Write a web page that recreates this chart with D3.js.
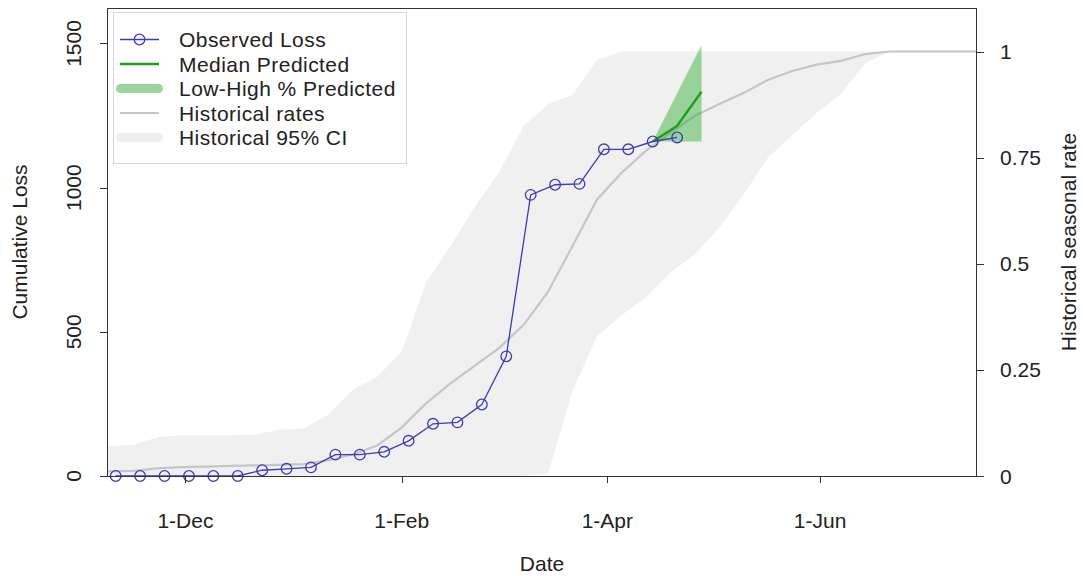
<!DOCTYPE html>
<html><head><meta charset="utf-8">
<script src="https://cdn.jsdelivr.net/npm/d3@7"></script>
<style>body{margin:0;background:#fff} text{font-family:"Liberation Sans",Arial,Helvetica,sans-serif;fill:#222}</style>
</head><body>
<svg id="c" width="1083" height="576"></svg>
<script>
// ---- data ----
const obsDates = ["2018-11-11","2018-11-18","2018-11-25","2018-12-02","2018-12-09","2018-12-16","2018-12-23","2018-12-30",
  "2019-01-06","2019-01-13","2019-01-20","2019-01-27","2019-02-03","2019-02-10","2019-02-17","2019-02-24",
  "2019-03-03","2019-03-10","2019-03-17","2019-03-24","2019-03-31","2019-04-07","2019-04-14","2019-04-21"];
const obsLoss = [0,0,0,0,0,0,20,25,30,74,74,84,122,181,186,248,415,975,1010,1013,1133,1133,1160,1174];

const predDates = ["2019-04-14","2019-04-21","2019-04-28"];
const predMedian = [1160,1214,1333];
const predLow = [1160,1160,1160];
const predHigh = [1160,1327,1495];

const histDates = ["2018-11-08","2018-11-16","2018-11-23","2018-11-30","2018-12-07","2018-12-14","2018-12-21","2018-12-28",
  "2019-01-04","2019-01-11","2019-01-18","2019-01-25","2019-02-01","2019-02-08","2019-02-15","2019-02-22",
  "2019-03-01","2019-03-08","2019-03-15","2019-03-22","2019-03-29","2019-04-05","2019-04-12","2019-04-19",
  "2019-04-26","2019-05-03","2019-05-10","2019-05-17","2019-05-24","2019-05-31","2019-06-07","2019-06-14",
  "2019-06-21","2019-06-28","2019-07-05","2019-07-12","2019-07-16"];
const histRate = [0.011,0.012,0.018,0.021,0.022,0.024,0.025,0.026,0.028,0.037,0.051,0.072,0.114,0.171,0.218,0.26,
  0.302,0.356,0.434,0.542,0.651,0.714,0.766,0.808,0.848,0.876,0.902,0.933,0.954,0.969,0.978,0.994,1,1,1,1,1];
const histUpper = [0.070,0.073,0.091,0.096,0.096,0.096,0.098,0.109,0.112,0.145,0.204,0.234,0.293,0.455,0.542,0.634,
  0.716,0.825,0.876,0.898,0.98,1,1,1,1,1,1,1,1,1,1,1,1,1,1,1,1];
const histLower = [0,0,0,0,0,0,0,0,0,0,0,0,0,0,0,0,0,0,0.006,0.2,0.329,0.378,0.420,0.478,
  0.521,0.584,0.662,0.749,0.803,0.855,0.900,0.973,1,1,1,1,1];

const xTickDates = ["2018-12-01","2019-02-01","2019-04-01","2019-06-01"];
const leftTicks = [0,500,1000,1500];
const rightTicks = [0,0.25,0.5,0.75,1];
const rightTickLabels = ["0","0.25","0.5","0.75","1"];
const legendLabels = ["Observed Loss","Median Predicted","Low-High % Predicted","Historical rates","Historical 95% CI"];

// ---- setup ----
const parse = d3.timeParse("%Y-%m-%d");
const svg = d3.select("#c");
const L = 107, R = 977, T = 8, B = 476;
const FS = 21;
const x = d3.scaleTime().domain([new Date(2018,10,8,12), new Date(2019,6,16)]).range([L, R]);
const yL = d3.scaleLinear().domain([0, 1623]).range([B, T]);
const yR = d3.scaleLinear().domain([0, 1.1025]).range([B, T]);

svg.append("defs").append("clipPath").attr("id","clip")
  .append("rect").attr("x",L).attr("y",T).attr("width",R-L).attr("height",B-T);
const g = svg.append("g").attr("clip-path","url(#clip)");

const hist = histDates.map((d,i)=>({d:parse(d), m:histRate[i], lo:histLower[i], hi:histUpper[i]}));
g.append("path").datum(hist)
  .attr("d", d3.area().x(d=>x(d.d)).y0(d=>yR(d.lo)).y1(d=>yR(d.hi)))
  .attr("fill","#f0f0f0");
g.append("path").datum(hist)
  .attr("d", d3.line().x(d=>x(d.d)).y(d=>yR(d.m)))
  .attr("fill","none").attr("stroke","#c6c6c6").attr("stroke-width",2.2);

const pred = predDates.map((d,i)=>({d:parse(d), m:predMedian[i], lo:predLow[i], hi:predHigh[i]}));
g.append("path").datum(pred)
  .attr("d", d3.area().x(d=>x(d.d)).y0(d=>yL(d.lo)).y1(d=>yL(d.hi)))
  .attr("fill","rgb(30,170,30)").attr("fill-opacity",0.42);
g.append("path").datum(pred)
  .attr("d", d3.line().x(d=>x(d.d)).y(d=>yL(d.m)))
  .attr("fill","none").attr("stroke","#1e9e1e").attr("stroke-width",2.5);

const obs = obsDates.map((d,i)=>({d:parse(d), v:obsLoss[i]}));
const blue = "#3b3bb5";
svg.append("path").datum(obs)
  .attr("d", d3.line().x(d=>x(d.d)).y(d=>yL(d.v)))
  .attr("fill","none").attr("stroke",blue).attr("stroke-width",1.3);
svg.selectAll("circle.obs").data(obs).enter().append("circle").attr("class","obs")
  .attr("cx",d=>x(d.d)).attr("cy",d=>yL(d.v)).attr("r",5.3)
  .attr("fill","none").attr("stroke",blue).attr("stroke-width",1.3);

// ---- legend ----
const lg = svg.append("g");
lg.append("rect").attr("x",113.5).attr("y",12.5).attr("width",293).attr("height",151)
  .attr("fill","#fff").attr("stroke","#d8d8d8").attr("stroke-width",1);
const rowY = i => 39.5 + i*24.5;
lg.append("line").attr("x1",120).attr("x2",159).attr("y1",rowY(0)).attr("y2",rowY(0)).attr("stroke",blue).attr("stroke-width",1.3);
lg.append("circle").attr("cx",139.5).attr("cy",rowY(0)).attr("r",5.3).attr("fill","none").attr("stroke",blue).attr("stroke-width",1.3);
lg.append("line").attr("x1",120).attr("x2",159).attr("y1",rowY(1)).attr("y2",rowY(1)).attr("stroke","#1e9e1e").attr("stroke-width",2.5);
lg.append("line").attr("x1",120.5).attr("x2",158.5).attr("y1",rowY(2)).attr("y2",rowY(2)).attr("stroke","#9bd79b").attr("stroke-width",9).attr("stroke-linecap","round");
lg.append("line").attr("x1",120).attr("x2",159).attr("y1",rowY(3)).attr("y2",rowY(3)).attr("stroke","#c6c6c6").attr("stroke-width",2.2);
lg.append("line").attr("x1",120.5).attr("x2",158.5).attr("y1",rowY(4)).attr("y2",rowY(4)).attr("stroke","#efefef").attr("stroke-width",9).attr("stroke-linecap","round");
lg.selectAll("text").data(legendLabels).enter().append("text")
  .attr("x",179).attr("y",(d,i)=>rowY(i)).attr("dy","0.36em").attr("font-size",FS)
  .attr("letter-spacing","0.45px").text(d=>d);

// ---- axes / box ----
const ax = svg.append("g").attr("stroke","#333").attr("stroke-width",1).attr("fill","none");
ax.append("rect").attr("x",L+0.5).attr("y",T+0.5).attr("width",R-L-1).attr("height",B-T);
leftTicks.forEach(v=>{
  const yy = Math.round(yL(v))+0.5;
  ax.append("line").attr("x1",L-7).attr("x2",L).attr("y1",yy).attr("y2",yy);
  svg.append("text").attr("transform",`translate(81,${yL(v)}) rotate(-90)`).attr("text-anchor","middle")
    .attr("font-size",FS).text(v);
});
rightTicks.forEach((v,i)=>{
  const yy = Math.round(yR(v))+0.5;
  ax.append("line").attr("x1",R).attr("x2",R+7).attr("y1",yy).attr("y2",yy);
  svg.append("text").attr("x",1000).attr("y",yR(v)).attr("dy","0.36em").attr("font-size",FS).text(rightTickLabels[i]);
});
const fmt = d3.timeFormat("%-d-%b");
xTickDates.map(parse).forEach(d=>{
  const xx = Math.round(x(d))+0.5;
  ax.append("line").attr("x1",xx).attr("x2",xx).attr("y1",B).attr("y2",B+7);
  svg.append("text").attr("x",x(d)).attr("y",528).attr("text-anchor","middle").attr("font-size",FS).text(fmt(d));
});
svg.append("text").attr("x",(L+R)/2).attr("y",571).attr("text-anchor","middle").attr("font-size",FS).text("Date");
svg.append("text").attr("transform",`translate(27,${(T+B)/2}) rotate(-90)`).attr("text-anchor","middle").attr("font-size",FS).text("Cumulative Loss");
svg.append("text").attr("transform",`translate(1076,${(T+B)/2}) rotate(-90)`).attr("text-anchor","middle").attr("font-size",FS).text("Historical seasonal rate");
</script>
</body></html>
